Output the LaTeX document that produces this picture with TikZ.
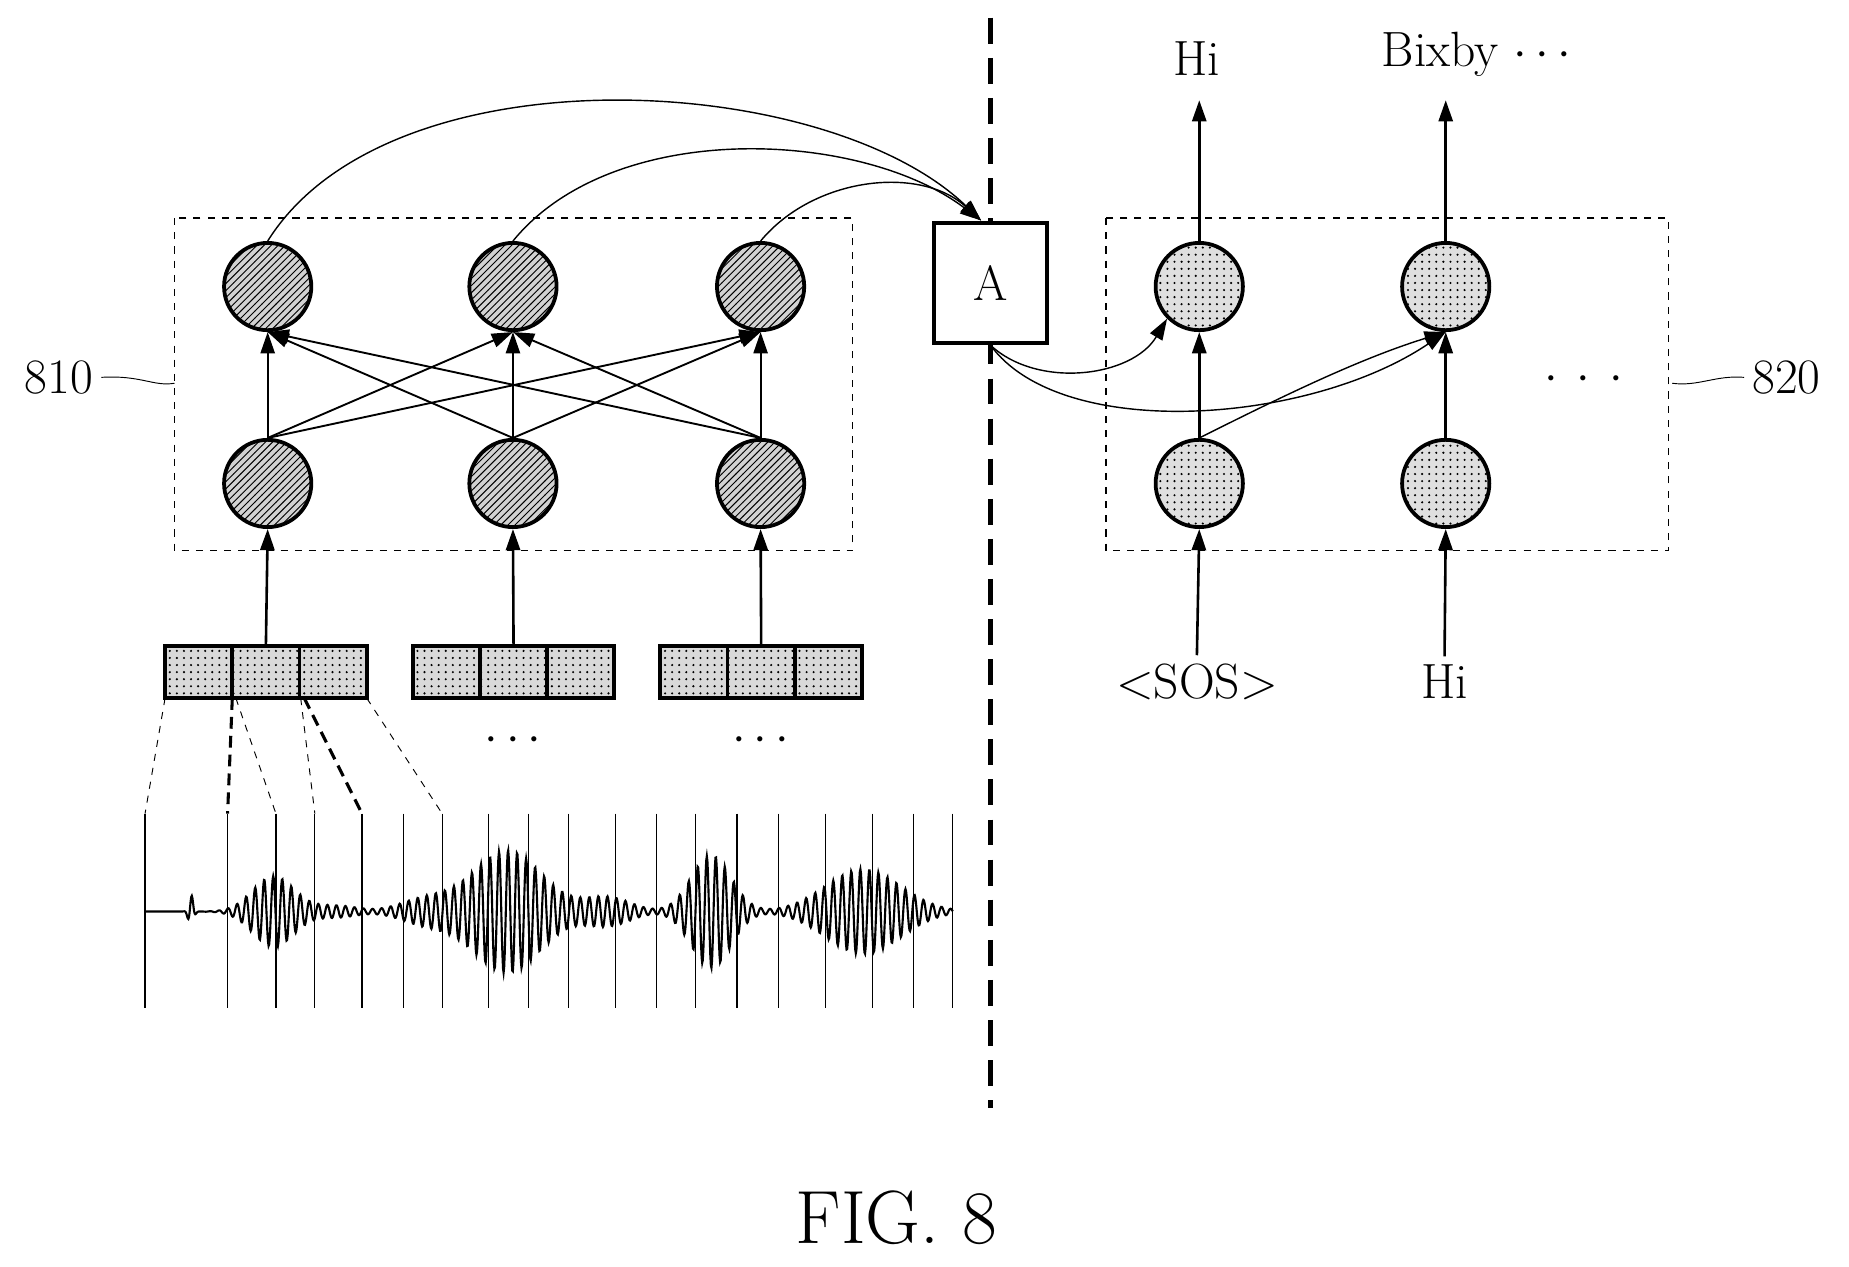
\documentclass[tikz,border=0pt]{standalone}
\usepackage{tikz}
\usetikzlibrary{positioning,patterns,arrows.meta}
\tikzset{
		edgeStyle/.style = {line width=1.1pt,-{Triangle[length=9pt,width=6pt]}},
		encNode/.style =   {circle,draw,line width=1.6pt,minimum size=37pt,inner sep=0pt,
		                    preaction={fill=gray!35},pattern=north east lines},
		decNode/.style =   {circle,draw,line width=1.6pt,minimum size=37pt,inner sep=0pt,
		                    preaction={fill=gray!25},pattern=dots},
		cell/.style =      {draw,line width=1.6pt,minimum width=28.5pt,minimum height=22pt,inner sep=0pt,
		                    preaction={fill=gray!30},pattern=dots},
		frame/.style =     {draw,dashed,line width=0.6pt},
		txt/.style =       {font=\fontsize{21}{21}\selectfont},
		thinDash/.style =  {dashed,line width=0.4pt},
		thickDash/.style = {dash pattern=on 5pt off 3pt,line width=1.3pt}
}
\begin{document}
\begin{tikzpicture}[x=0.5pt,y=-0.5pt,
  declare function={env(\c,\w,\x)=exp(-min(abs((\x-\c)/\w),8)^2);
                    osc(\x)=sin(360*(0.13056*\x-floor(0.13056*\x)));}]
  \useasboundingbox (0,0) rectangle (1568,1074);

  % Encoder and decoder frames
  \draw [frame] (148,185) rectangle (723,467);
  \draw [frame] (938,185) rectangle (1415,467);
  \draw [dash pattern=on 11pt off 6pt,line width=1.8pt] (840,15) -- (840,940);

  % Encoder nodes
  \foreach \x [count=\i] in {227,435,645}
  {
    \node [encNode] (t\i) at (\x,243) {};
    \node [encNode] (b\i) at (\x,410) {};
  }
  \foreach \i in {1,2,3}
    \foreach \j in {1,2,3}
      \draw [edgeStyle,line width=0.8pt] (b\i.north) -- (t\j.south);

  % Input frames
  \foreach \x [count=\i] in {140,350,560}
  {
    \foreach \k in {0,1,2}
      \node [cell] (c\i\k) at (\x+28.5+57*\k,570) {};
    \draw [line width=1.6pt] (\x,548) rectangle (\x+171,592);
    \draw [edgeStyle] (c\i1.north) -- (b\i.south);
  }
  \node [txt] (dots1) at (435,628) {$\cdots$};
  \node [txt] (dots2) at (645,628) {$\cdots$};

  % Waveform
  \foreach \x in {123,193,234,267,307,342,375,414,448,482,522,557,590,625,660,700,740,775,808}
    \draw [line width=0.5pt] (\x,690) -- (\x,855);
  \draw [thinDash] (140,592) -- (123,690);
  \draw [thickDash] (197,592) -- (193,690);
  \draw [thinDash] (200,592) -- (234,690);
  \draw [thinDash] (255,592) -- (267,690);
  \draw [thickDash] (258,592) -- (307,690);
  \draw [thinDash] (311,592) -- (375,690);
  \draw [line width=0.9pt] plot [domain=123:808,samples=1400] (\x,
    {773-osc(\x)*(14*env(162,3,\x)+30*env(232,25,\x)+5*env(285,25,\x)
     +10*env(360,30,\x)+52*env(430,42,\x)+12*env(515,28,\x)
     +48*env(603,24,\x)+36*env(732,45,\x))});

  % Attention
  \node [draw,fill=white,line width=1.8pt,minimum width=48pt,minimum height=51pt,txt] (att) at (840,240) {A};
  \draw [edgeStyle,line width=0.6pt] (t1.north) .. controls (330,40) and (700,60) .. (832,187);
  \draw [edgeStyle,line width=0.6pt] (t2.north) .. controls (520,100) and (730,110) .. (832,187);
  \draw [edgeStyle,line width=0.6pt] (t3.north) .. controls (690,150) and (780,140) .. (832,187);

  % Decoder nodes
  \node [decNode] (d1) at (1017,243) {};
  \node [decNode] (d2) at (1226,243) {};
  \node [decNode] (e1) at (1017,410) {};
  \node [decNode] (e2) at (1226,410) {};
  \node [txt] (out1) at (1015,50) {Hi};
  \node [txt] (out2) at (1252,46) {Bixby $\cdots$};
  \node [txt] (in1) at (1015,578) {<SOS>};
  \node [txt] (in2) at (1225,578) {Hi};
  \node [txt] (more) at (1343,322) {$\cdot\,\cdot\,\cdot$};
  \draw [edgeStyle] (d1.north) -- (1017,85);
  \draw [edgeStyle] (d2.north) -- (1226,85);
  \draw [edgeStyle] (e1.north) -- (d1.south);
  \draw [edgeStyle] (e2.north) -- (d2.south);
  \draw [edgeStyle] (in1.north) -- (e1.south);
  \draw [edgeStyle] (in2.north) -- (e2.south);
  \draw [edgeStyle,line width=0.6pt] (att.south) .. controls (880,330) and (960,320) .. (d1.south west);
  \draw [edgeStyle,line width=0.6pt] (att.south) .. controls (900,375) and (1110,360) .. (d2.south);
  \draw [edgeStyle,line width=0.6pt] (e1.north) .. controls (1080,340) and (1150,305) .. (d2.south);

  % Reference numerals
  \node [txt] (n810) at (50,320) {810};
  \node [txt] (n820) at (1515,320) {820};
  \draw [line width=0.4pt] (n810.east) .. controls (120,318) and (130,328) .. (148,325);
  \draw [line width=0.4pt] (1418,325) .. controls (1440,328) and (1455,318) .. (n820.west);
  \node [font=\fontsize{32}{32}\selectfont] (fig) at (760,1033) {FIG. 8};
\end{tikzpicture}
\end{document}
